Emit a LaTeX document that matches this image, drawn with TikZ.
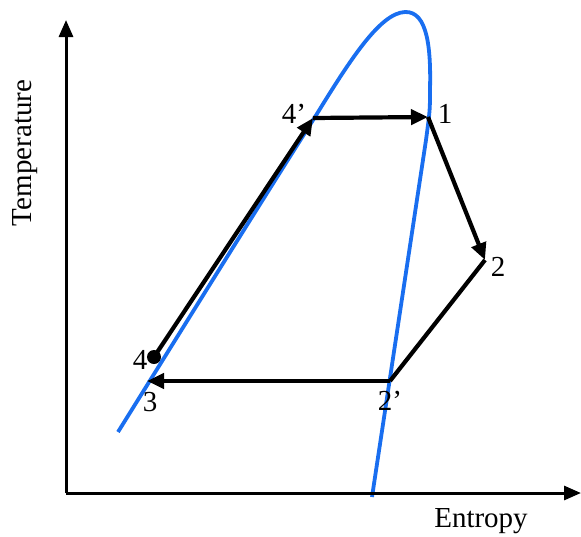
\documentclass[tikz,border=0pt]{standalone}
\usepackage{fontspec}
\setmainfont{Liberation Serif}
\usetikzlibrary{arrows.meta}
\definecolor{DomeBlue}{RGB}{25,110,240}
\tikzset{
  dome/.style={draw=DomeBlue,line width=3.8pt},
  cyc/.style={draw=black,line width=4.2pt,-{Triangle[length=17pt,width=15pt]}},
  axis/.style={draw=black,line width=3pt,-{Triangle[length=17pt,width=14pt]}},
  lbl/.style={font=\fontsize{29}{31}\selectfont,inner sep=0pt},
}

\begin{document}
\begin{tikzpicture}[x=1pt,y=-1pt]
\useasboundingbox (0,0) rectangle (581,536);
\coordinate (O) at (66,493); \coordinate (ytip) at (66,20);
\coordinate (xtip) at (581,493);
\coordinate (p1) at (428,117); \coordinate (p4s) at (313,118);
\coordinate (p2) at (485,260); \coordinate (p2s) at (390,381);
\coordinate (p3) at (147,381); \coordinate (p4) at (154,357);
% saturation dome
\draw[dome] (118,432) .. controls (200,300) and (280,172) .. (315,117)
  .. controls (350,60) and (380,13) .. (405,12)
  .. controls (428,11) and (431,50) .. (430,90)
  .. controls (430,110) .. (426,140) -- (372,497);
% axes
\draw[axis] (O)--(ytip);
\draw[axis] (O)--(xtip);
% cycle
\foreach \u/\v in {p4/p4s,p4s/p1,p1/p2,p2s/p3} \draw[cyc] (\u)--(\v);
\draw[cyc,-] (p2)--(p2s);
\fill (p4) circle (7pt);
\node[lbl] (l1) at (445,114) {1};
\node[lbl] (l4s) at (294,114) {4’};
\node[lbl] (l2) at (498,267) {2};
\node[lbl] (l2s) at (390,401) {2’};
\node[lbl] (l3) at (150,402) {3};
\node[lbl] (l4) at (140,360) {4};
\node[lbl,rotate=90] (yl) at (25,153) {Temperature};
\node[lbl] (xl) at (481,521) {Entropy};
\end{tikzpicture}
\end{document}
